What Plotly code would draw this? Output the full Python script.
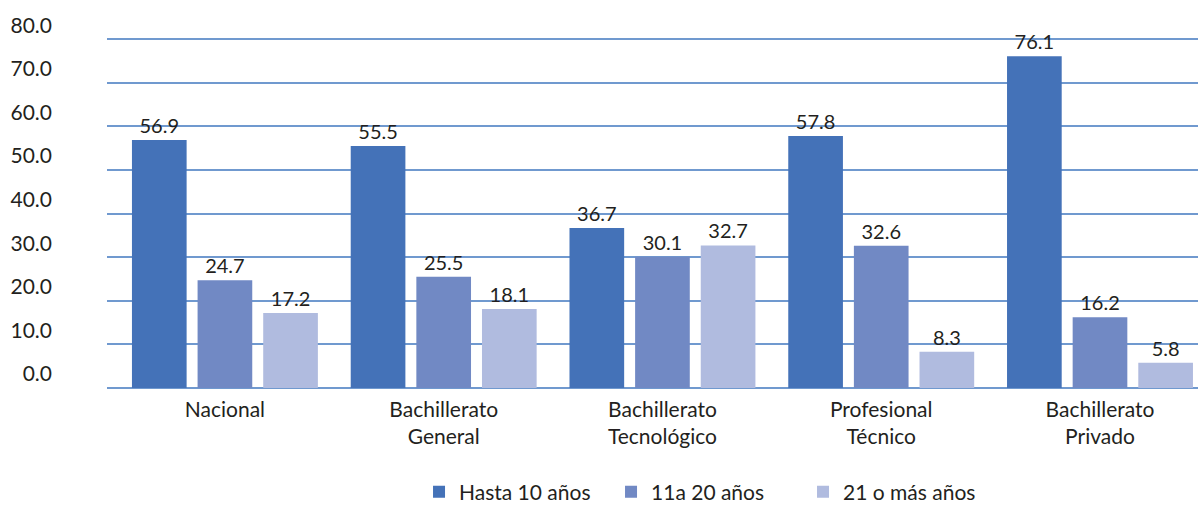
import plotly.graph_objects as go

categories = ["Nacional", "Bachillerato<br>General", "Bachillerato<br>Tecnológico",
              "Profesional<br>Técnico", "Bachillerato<br>Privado"]
series_names = ["Hasta 10 años", "11a 20 años", "21 o más años"]
hasta10 = [56.9, 55.5, 36.7, 57.8, 76.1]
de11a20 = [24.7, 25.5, 30.1, 32.6, 16.2]
mas21 = [17.2, 18.1, 32.7, 8.3, 5.8]
y_ticks = [0, 10, 20, 30, 40, 50, 60, 70, 80]

colors = ["#4472B8", "#7189C4", "#B0BBDF"]
FONT = "Lato"
TXT = "#231F20"
GRID = "#7099CF"

fig = go.Figure()
for name, vals, col in zip(series_names, [hasta10, de11a20, mas21], colors):
    fig.add_trace(go.Bar(
        x=categories, y=vals, name=name, marker=dict(color=col, line=dict(width=0)),
        text=[f"{v:.1f}" for v in vals], textposition="outside",
        textfont=dict(family=FONT, size=20, color=TXT), cliponaxis=False,
    ))

fig.update_layout(
    width=1198, height=507,
    margin=dict(l=107, r=0, t=37, b=119, autoexpand=False),
    paper_bgcolor="white", plot_bgcolor="white",
    barmode="group", bargap=0.10, bargroupgap=0.167,
    font=dict(family=FONT, color=TXT),
    showlegend=True,
    legend=dict(orientation="h", x=0.286, xanchor="left", y=-0.238, yanchor="top",
                font=dict(family=FONT, size=21, color=TXT), itemwidth=30,
                entrywidth=147, entrywidthmode="pixels", tracegroupgap=0),
)
fig.update_xaxes(
    range=[-0.539, 4.448], showgrid=False, showline=False, ticks="",
    tickfont=dict(family=FONT, size=21, color=TXT), ticklabelstandoff=7,
)
fig.update_yaxes(
    range=[0, 80.5], tickvals=y_ticks, ticktext=[f"{v:.1f}" for v in y_ticks],
    showgrid=True, gridcolor=GRID, gridwidth=1.5,
    zeroline=True, zerolinecolor=GRID, zerolinewidth=1.5,
    showline=False, ticks="",
    tickfont=dict(family=FONT, size=21, color=TXT),
    ticklabelstandoff=54, ticklabelshift=-14,
)
fig.write_html("out.html", config={"displayModeBar": False},
               post_script="document.body.style.margin='0';")
